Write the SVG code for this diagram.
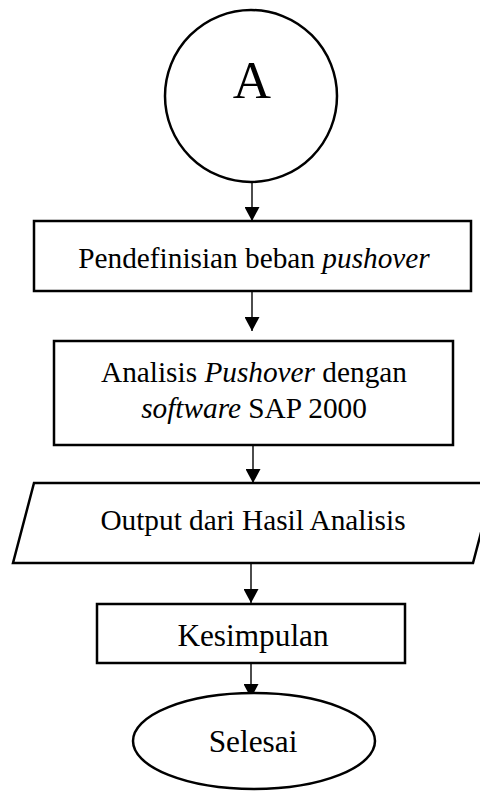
<svg xmlns="http://www.w3.org/2000/svg" width="480" height="791" viewBox="0 0 480 791">
<defs>
<style>
.shape{fill:#fff;stroke:#000;stroke-width:2.5}
.lbl{font-family:"Liberation Serif","Times New Roman",serif;font-size:29.3px;fill:#000;text-anchor:middle}
.big{font-size:31.3px}
.conn{stroke:#000;stroke-width:1.4;fill:none}
</style>
<marker id="ah" viewBox="0 0 14 15" refX="14" refY="7.5" markerWidth="14" markerHeight="15" markerUnits="userSpaceOnUse" orient="auto">
<path d="M0,0 L14,7.5 L0,15 Z" fill="#000"/>
</marker>
</defs>
<rect width="480" height="791" fill="#fff"/>
<g id="connectors">
<line class="conn" x1="252" y1="183" x2="252" y2="221" marker-end="url(#ah)"/>
<line class="conn" x1="252" y1="292" x2="252" y2="331" marker-end="url(#ah)"/>
<line class="conn" x1="253" y1="446" x2="253" y2="483" marker-end="url(#ah)"/>
<line class="conn" x1="251" y1="564" x2="251" y2="603" marker-end="url(#ah)"/>
<line class="conn" x1="251" y1="664" x2="251" y2="698" marker-end="url(#ah)"/>
</g>
<g id="node-a">
<circle class="shape" cx="251" cy="96" r="86" stroke-width="2"/>
<text class="lbl" x="252" y="98" style="font-size:53px">A</text>
</g>
<g id="node-pendefinisian">
<rect class="shape" x="34" y="221" width="437" height="70"/>
<text class="lbl" x="254" y="268">Pendefinisian beban <tspan font-style="italic">pushover</tspan></text>
</g>
<g id="node-analisis">
<rect class="shape" x="54" y="341" width="399" height="104"/>
<text class="lbl" x="254" y="382">Analisis <tspan font-style="italic">Pushover</tspan> dengan</text>
<text class="lbl" x="254" y="418"><tspan font-style="italic">software</tspan> SAP 2000</text>
</g>
<g id="node-output">
<polygon class="shape" points="34,483 494,483 473,563 13,563"/>
<text class="lbl" x="253" y="530">Output dari Hasil Analisis</text>
</g>
<g id="node-kesimpulan">
<rect class="shape" x="97" y="604" width="308" height="59"/>
<text class="lbl big" x="253" y="646">Kesimpulan</text>
</g>
<g id="node-selesai">
<ellipse class="shape" cx="254" cy="741" rx="121" ry="48" stroke-width="2"/>
<text class="lbl big" x="253" y="752">Selesai</text>
</g>
</svg>
